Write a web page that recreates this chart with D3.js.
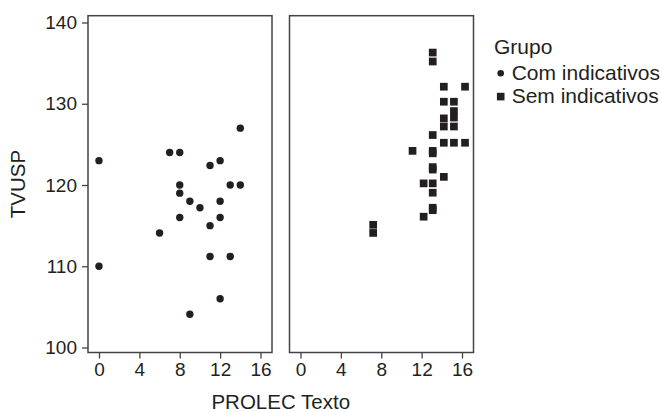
<!DOCTYPE html>
<html>
<head>
<meta charset="utf-8">
<script src="https://cdn.jsdelivr.net/npm/d3@7"></script>
<style>
  body { margin: 0; background: #fff; }
  svg { display: block; font-family: "Liberation Sans", Arial, sans-serif; }
</style>
</head>
<body>
<svg width="662" height="412"></svg>
<script>
// grupo "Com indicativos" (circles)
const comX = [0, 7, 8, 14, 11, 12, 8, 13, 14, 8, 9, 12, 10, 8, 12, 11, 6, 11, 13, 0, 12, 9];
const comY = [123, 124, 124, 127, 122.4, 123, 120, 120, 120, 119, 118, 118, 117.2, 116, 116, 115, 114.1, 111.2, 111.2, 110, 106, 104.1];

// grupo "Sem indicativos" (squares)
const semX = [13.1, 13.1, 14.2, 16.3, 14.2, 15.2, 15.2, 15.2, 14.2, 14.2, 15.2, 13.1, 14.2, 15.2, 16.3,
              11.1, 13.1, 13.1, 13.1, 13.1, 14.2, 12.2, 13.1, 13.1, 13.1, 13.1, 12.2, 7.2, 7.2];
const semY = [136.3, 135.2, 132.1, 132.1, 130.25, 130.25, 129.1, 128.3, 128.2, 127.2, 127.2, 126.15, 125.2, 125.2, 125.2,
              124.2, 124.2, 123.9, 122.2, 121.9, 121, 120.2, 120.2, 119.05, 117.2, 116.9, 116.1, 115.1, 114.1];

const xTicks = [0, 4, 8, 12, 16];
const yTicks = [100, 110, 120, 130, 140];
const groups = ["Com indicativos", "Sem indicativos"];

const ink = "#231f20";
const svg = d3.select("svg");

// panel geometry
const panelW = 184, panelTop = 15.7, panelH = 336.8;
const panelLeft = [88, 289.5];

const x = d3.scaleLinear().domain([0, 16]).range([11, 172.5]);
const y = d3.scaleLinear().domain([100, 140]).range([331.8, 6.8]);

const panels = panelLeft.map((left, i) => {
  const g = svg.append("g").attr("transform", `translate(${left},${panelTop})`);

  // x axis
  const xa = g.append("g")
    .attr("transform", `translate(0,${panelH})`)
    .call(d3.axisBottom(x).tickValues(xTicks).tickSize(6).tickPadding(4).tickSizeOuter(0));
  xa.select(".domain").remove();
  xa.selectAll("line").attr("stroke", "#444").attr("stroke-width", 1.3);
  xa.selectAll("text").attr("font-size", 19).attr("fill", ink).attr("font-family", null);

  if (i == 0) {
    const ya = g.append("g")
      .call(d3.axisLeft(y).tickValues(yTicks).tickSize(6).tickPadding(5).tickSizeOuter(0));
    ya.select(".domain").remove();
    ya.selectAll("line").attr("stroke", "#444").attr("stroke-width", 1.3);
    ya.selectAll("text").attr("font-size", 19).attr("fill", ink).attr("font-family", null);
  }

  // panel border
  g.append("rect")
    .attr("width", panelW).attr("height", panelH)
    .attr("fill", "none").attr("stroke", "#444").attr("stroke-width", 1.5);
  return g;
});

// left panel: circles
const comData = comX.map((v, i) => ({X: v, Y: comY[i]}));
panels[0].selectAll("circle.pt")
  .data(comData)
  .enter()
  .append("circle")
  .attr("class", "pt")
  .attr("cx", d => x(d.X))
  .attr("cy", d => y(d.Y))
  .attr("r", 3.7)
  .attr("fill", ink);

// right panel: squares
const sq = 7.7;
const semData = semX.map((v, i) => ({X: v, Y: semY[i]}));
panels[1].selectAll("rect.pt")
  .data(semData)
  .enter()
  .append("rect")
  .attr("class", "pt")
  .attr("x", d => x(d.X) - sq / 2)
  .attr("y", d => y(d.Y) - sq / 2)
  .attr("width", sq).attr("height", sq)
  .attr("fill", ink);

// axis titles
svg.append("text")
  .attr("x", (panelLeft[0] + panelLeft[1] + panelW) / 2).attr("y", 409)
  .attr("text-anchor", "middle").attr("font-size", 20.5).attr("fill", ink)
  .text("PROLEC Texto");

svg.append("text")
  .attr("transform", `translate(25,${panelTop + panelH / 2}) rotate(-90)`)
  .attr("text-anchor", "middle").attr("font-size", 20.5).attr("fill", ink)
  .text("TVUSP");

// legend
const legend = svg.append("g").attr("transform", "translate(494,0)");
legend.append("text").attr("x", 0).attr("y", 54.3)
  .attr("font-size", 21).attr("fill", ink).text("Grupo");

groups.forEach((name, i) => {
  const ly = 80 + i * 23.4;
  if (i == 0) {
    legend.append("circle").attr("cx", 6.7).attr("cy", ly - 6.8).attr("r", 3.3).attr("fill", ink);
  } else {
    legend.append("rect").attr("x", 6.7 - 3.8).attr("y", ly - 6.8 - 3.8)
      .attr("width", 7.6).attr("height", 7.6).attr("fill", ink);
  }
  legend.append("text").attr("x", 17.7).attr("y", ly)
    .attr("font-size", 21).attr("fill", ink).text(name);
});
</script>
</body>
</html>
